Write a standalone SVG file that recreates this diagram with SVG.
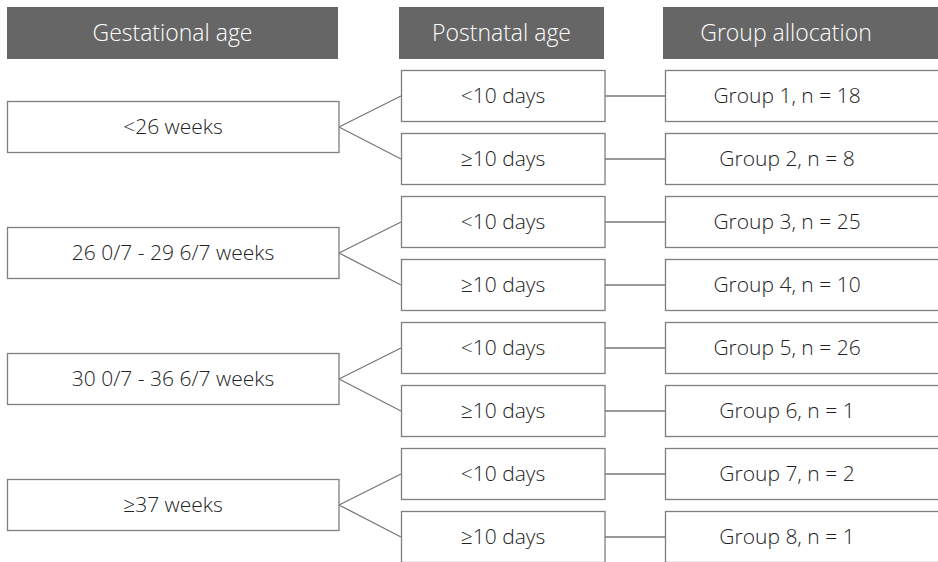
<svg xmlns="http://www.w3.org/2000/svg" width="938" height="562" viewBox="0 0 938 562">
<style>
.hdr{fill:#666666}
.ht{fill:#ffffff;font-family:"Open Sans",Lato,sans-serif;font-weight:300;font-size:23px;text-anchor:middle;dominant-baseline:central}
.box{fill:#ffffff;stroke:#7f7f7f;stroke-width:1.3}
.t{fill:#222222;font-family:"Open Sans",Lato,sans-serif;font-weight:300;font-size:21px;text-anchor:middle;dominant-baseline:central}
.ln{stroke:#777777;stroke-width:1.3;fill:none}
</style>
<rect width="938" height="562" fill="#ffffff"/>
<g id="headers">
<g id="h-gest"><rect class="hdr" x="7" y="7" width="331" height="52"/><text class="ht" x="172.5" y="31.5">Gestational age</text></g>
<g id="h-post"><rect class="hdr" x="399" y="7" width="205" height="52"/><text class="ht" x="501.5" y="31.5">Postnatal age</text></g>
<g id="h-group"><rect class="hdr" x="663" y="7" width="300" height="52"/><text class="ht" x="786" y="31.5">Group allocation</text></g>
</g>
<g id="connectors">
<path class="ln" d="M339 127 L401 96 M339 127 L401 159"/>
<path class="ln" d="M339 253 L401 222 M339 253 L401 285"/>
<path class="ln" d="M339 379 L401 348 M339 379 L401 411"/>
<path class="ln" d="M339 505 L401 474 M339 505 L401 537"/>
<path class="ln" d="M605 96 H665 M605 159 H665 M605 222 H665 M605 285 H665 M605 348 H665 M605 411 H665 M605 474 H665 M605 537 H665"/>
</g>
<g id="g1"><rect class="box" x="7.5" y="101.5" width="331.5" height="51"/><text class="t" x="173" y="125.5">&lt;26 weeks</text></g>
<g id="g2"><rect class="box" x="7.5" y="227.5" width="331.5" height="51"/><text class="t" x="173" y="251.5">26 0/7 - 29 6/7 weeks</text></g>
<g id="g3"><rect class="box" x="7.5" y="353.5" width="331.5" height="51"/><text class="t" x="173" y="377.5">30 0/7 - 36 6/7 weeks</text></g>
<g id="g4"><rect class="box" x="7.5" y="479.5" width="331.5" height="51"/><text class="t" x="173" y="503.5">≥37 weeks</text></g>
<g id="p1"><rect class="box" x="401.5" y="70.5" width="203.5" height="51"/><text class="t" x="503" y="94.5">&lt;10 days</text></g>
<g id="p2"><rect class="box" x="401.5" y="133.5" width="203.5" height="51"/><text class="t" x="503" y="157.5">≥10 days</text></g>
<g id="p3"><rect class="box" x="401.5" y="196.5" width="203.5" height="51"/><text class="t" x="503" y="220.5">&lt;10 days</text></g>
<g id="p4"><rect class="box" x="401.5" y="259.5" width="203.5" height="51"/><text class="t" x="503" y="283.5">≥10 days</text></g>
<g id="p5"><rect class="box" x="401.5" y="322.5" width="203.5" height="51"/><text class="t" x="503" y="346.5">&lt;10 days</text></g>
<g id="p6"><rect class="box" x="401.5" y="385.5" width="203.5" height="51"/><text class="t" x="503" y="409.5">≥10 days</text></g>
<g id="p7"><rect class="box" x="401.5" y="448.5" width="203.5" height="51"/><text class="t" x="503" y="472.5">&lt;10 days</text></g>
<g id="p8"><rect class="box" x="401.5" y="511.5" width="203.5" height="51"/><text class="t" x="503" y="535.5">≥10 days</text></g>
<g id="r1"><rect class="box" x="665.5" y="70.5" width="300" height="51"/><text class="t" x="787" y="94.5">Group 1, n = 18</text></g>
<g id="r2"><rect class="box" x="665.5" y="133.5" width="300" height="51"/><text class="t" x="787" y="157.5">Group 2, n = 8</text></g>
<g id="r3"><rect class="box" x="665.5" y="196.5" width="300" height="51"/><text class="t" x="787" y="220.5">Group 3, n = 25</text></g>
<g id="r4"><rect class="box" x="665.5" y="259.5" width="300" height="51"/><text class="t" x="787" y="283.5">Group 4, n = 10</text></g>
<g id="r5"><rect class="box" x="665.5" y="322.5" width="300" height="51"/><text class="t" x="787" y="346.5">Group 5, n = 26</text></g>
<g id="r6"><rect class="box" x="665.5" y="385.5" width="300" height="51"/><text class="t" x="787" y="409.5">Group 6, n = 1</text></g>
<g id="r7"><rect class="box" x="665.5" y="448.5" width="300" height="51"/><text class="t" x="787" y="472.5">Group 7, n = 2</text></g>
<g id="r8"><rect class="box" x="665.5" y="511.5" width="300" height="51"/><text class="t" x="787" y="535.5">Group 8, n = 1</text></g>
</svg>
